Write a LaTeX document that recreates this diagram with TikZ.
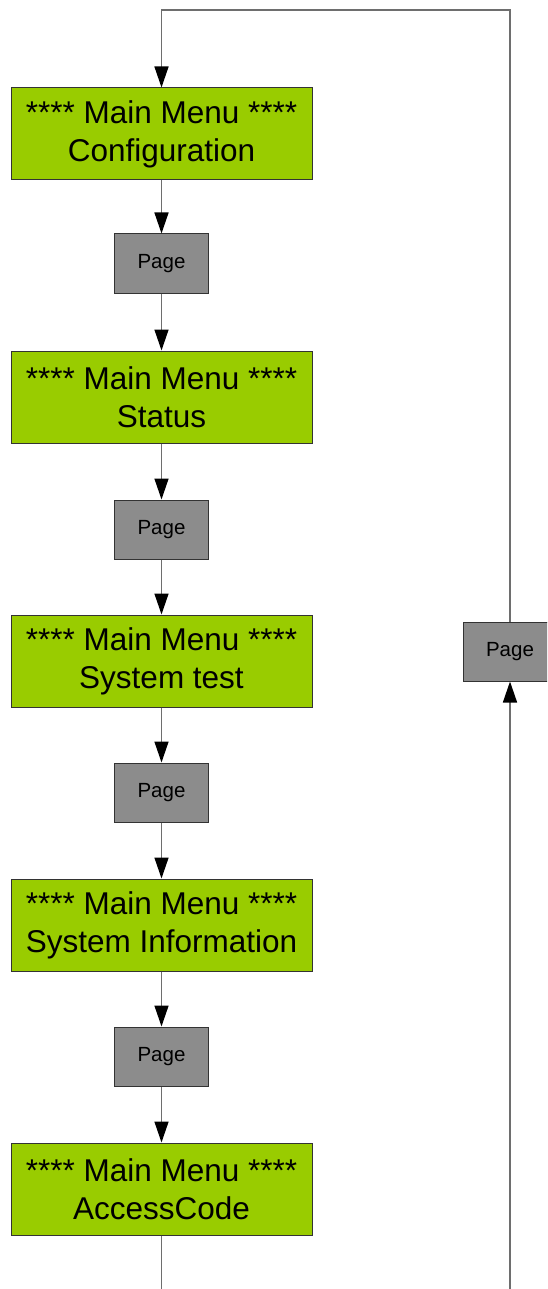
\documentclass[tikz,border=0pt]{standalone}
\usepackage{fontspec}
\setmainfont{Liberation Sans}
\usetikzlibrary{arrows.meta}
\definecolor{menugreen}{HTML}{99CC00}
\definecolor{pagegray}{HTML}{8C8C8C}
\definecolor{linegray}{HTML}{6E6E6E}
\definecolor{edgedark}{HTML}{333333}
\begin{document}
\begin{tikzpicture}[x=1pt,y=-1pt,
  menubox/.style={draw=edgedark, line width=1pt, fill=menugreen, minimum width=301pt,
    minimum height=92pt, inner sep=0pt, align=center,
    font=\fontsize{31.5}{38}\selectfont},
  pagebox/.style={draw=edgedark, line width=1pt, fill=pagegray, minimum width=94pt,
    minimum height=59pt, inner sep=0pt, font=\fontsize{20.5}{24}\selectfont},
  flow/.style={draw=linegray, line width=1.5pt, -{Triangle[width=14pt,length=21pt,color=black]}},
  plain/.style={draw=linegray, line width=1.5pt}]
\useasboundingbox (0,0) rectangle (547,1289);
\begin{scope}
\clip (0,0) rectangle (547,1289);
% main column: menu screens with Page steps between them
\node[menubox] (m1) at (161.5,134) {**** Main Menu ****\\Configuration};
\node[pagebox] (p1) at (161.5,263.5) {Page};
\node[menubox] (m2) at (161.5,397) {**** Main Menu ****\\Status};
\node[pagebox] (p2) at (161.5,529.5) {Page};
\node[menubox] (m3) at (161.5,661) {**** Main Menu ****\\System test};
\node[pagebox] (p3) at (161.5,792.5) {Page};
\node[menubox] (m4) at (161.5,925) {**** Main Menu ****\\System Information};
\node[pagebox] (p4) at (161.5,1056.5) {Page};
\node[menubox] (m5) at (161.5,1189) {**** Main Menu ****\\AccessCode};
% return path on the right
\node[pagebox] (pr) at (510,651.5) {Page};

\coordinate (tl) at (161.5,10);
\coordinate (tr) at (510,10);
\coordinate (bl) at (161.5,1295);
\coordinate (br) at (510,1295);

\draw[flow] (m1) -- (p1);
\draw[flow] (p1) -- (m2);
\draw[flow] (m2) -- (p2);
\draw[flow] (p2) -- (m3);
\draw[flow] (m3) -- (p3);
\draw[flow] (p3) -- (m4);
\draw[flow] (m4) -- (p4);
\draw[flow] (p4) -- (m5);
\draw[plain] (m5) -- (bl);
\draw[flow] (br) -- (pr);
\draw[flow] (pr.north) -- (tr) -- (tl) -- (m1.north);
\end{scope}
\end{tikzpicture}
\end{document}
